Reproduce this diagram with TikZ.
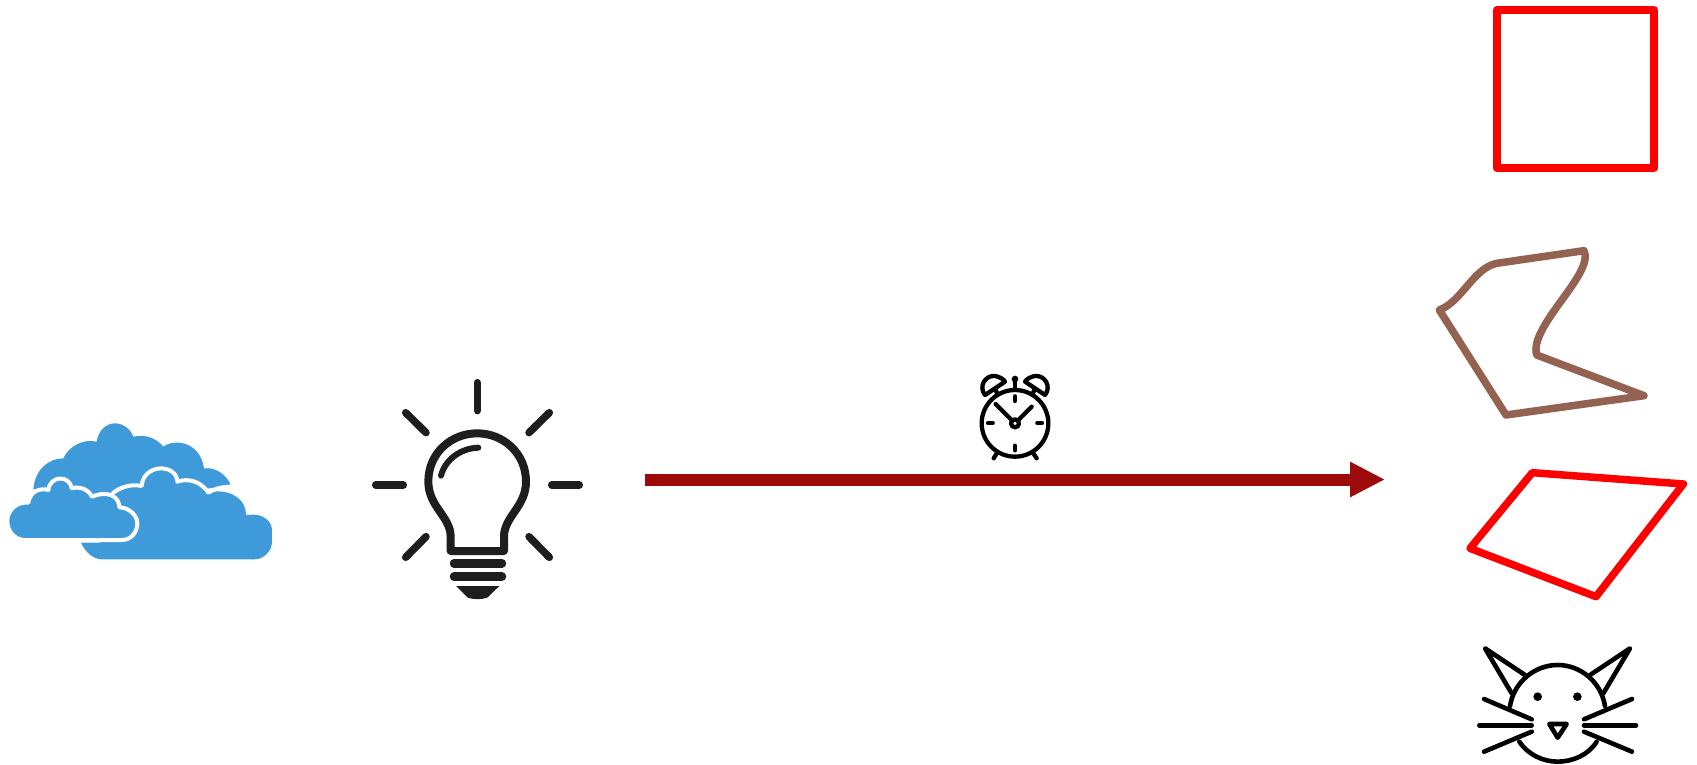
\documentclass[tikz,border=0pt]{standalone}
\usetikzlibrary{arrows.meta}
\definecolor{cloudblue}{HTML}{3E9AD8}
\definecolor{arrowred}{HTML}{9C0A0A}
\definecolor{shapebrown}{HTML}{936250}
\definecolor{inkdark}{HTML}{1E1E1E}
\tikzset{
  zoomed/.style={x=0.33333pt,y=-0.33333pt},
  redshape/.style={draw=red,line width=7.5pt,line join=round},
  brownshape/.style={draw=shapebrown,line width=7.5pt,line join=round},
  catline/.style={draw=black,line width=4.6pt,line cap=round,line join=round},
  clockline/.style={draw=black,line width=4.3pt,line cap=round,line join=round},
  bulbline/.style={draw=inkdark,line width=8pt,line cap=round,line join=round},
  ray/.style={draw=inkdark,line width=7.5pt,line cap=round},
  cloudedge/.style={draw=white,line width=4pt,line join=round,line cap=round},
}
\begin{document}
\begin{tikzpicture}[x=1pt,y=-1pt]
\useasboundingbox (0,0) rectangle (1697,765);
\fill[white] (0,0) rectangle (1697,765);

% clouds
\begin{scope}[shift={(0,400)},zoomed]
  \fill[cloudblue] (100,268) .. controls (105,205) and (150,175) .. (190,175)
     .. controls (205,140) and (250,115) .. (290,125)
     .. controls (295,90) and (320,70) .. (345,70) .. controls (370,70) and (392,88) .. (400,110)
     .. controls (440,100) and (475,120) .. (490,140)
     .. controls (525,115) and (600,125) .. (612,205)
     .. controls (650,200) and (685,230) .. (693,258)
     -- (300,300) -- (145,264) -- cycle;
  \fill[cloudblue] (243,428) .. controls (255,455) and (280,478) .. (305,478) -- (762,478)
     .. controls (795,478) and (816,450) .. (816,425) -- (816,390)
     .. controls (816,365) and (790,344) .. (762,344) -- (738,345)
     .. controls (740,300) and (690,262) .. (625,278)
     .. controls (600,240) and (560,235) .. (532,245)
     .. controls (530,190) and (430,190) .. (425,258)
     .. controls (390,250) and (355,265) .. (338,280) -- (300,428) -- cycle;
  \draw[cloudedge] (338,280) .. controls (355,265) and (390,250) .. (425,258)
     .. controls (430,190) and (530,190) .. (532,245)
     .. controls (560,235) and (600,240) .. (625,278)
     .. controls (645,265) and (670,260) .. (693,260);
  \fill[cloudblue,draw=white,line width=4pt,line join=round]
     (75,420) -- (365,420) .. controls (395,420) and (412,395) .. (412,370)
     .. controls (412,345) and (385,322) .. (358,322)
     .. controls (358,290) and (325,270) .. (276,290)
     .. controls (265,268) and (240,258) .. (215,265)
     .. controls (210,225) and (150,225) .. (145,270)
     .. controls (120,262) and (90,275) .. (85,308)
     .. controls (50,305) and (22,330) .. (22,363)
     .. controls (22,395) and (45,420) .. (75,420) -- cycle;
\end{scope}

% bulb
\begin{scope}[shift={(360,370)},zoomed]
  \draw[ray] (352,38) -- (352,122);
  \draw[ray] (137,128) -- (198,188);
  \draw[ray] (568,128) -- (507,188);
  \draw[ray] (47,345) -- (130,345);
  \draw[ray] (575,345) -- (658,345);
  \draw[ray] (137,562) -- (198,500);
  \draw[ray] (568,562) -- (507,500);
  \draw[bulbline] (272,543) -- (432,543) -- (432,500)
     .. controls (432,440) and (498,410) .. (498,335)
     .. controls (498,250) and (430,190) .. (352,190)
     .. controls (272,190) and (205,250) .. (205,335)
     .. controls (205,410) and (272,440) .. (272,500) -- cycle;
  \draw[bulbline,line width=6pt] (243,317) .. controls (255,270) and (300,235) .. (355,233);
  \draw[bulbline,line width=8.5pt] (282,580) -- (426,580);
  \draw[bulbline,line width=8.5pt] (282,620) -- (426,620);
  \fill[inkdark] (288,648) -- (418,648) -- (383,682) .. controls (370,689) and (335,689) .. (322,682) -- cycle;
\end{scope}

% arrow
\coordinate (arrowstart) at (645,479.5);
\coordinate (arrowend) at (1385,479.5);
\draw[arrowred,line width=12pt,-{Triangle[length=35pt,width=33pt]}] (arrowstart) -- (arrowend);

% clock
\begin{scope}[shift={(960,365)},zoomed]
  \draw[clockline] (165,175) circle[radius=100];
  \draw[clockline] (165,175) circle[radius=12];
  \draw[clockline] (107,117) -- (157,167);
  \draw[clockline] (215,125) -- (174,166);
  \draw[clockline] (165,94) -- (165,108);
  \draw[clockline] (165,242) -- (165,256);
  \draw[clockline] (84,174) -- (98,174);
  \draw[clockline] (232,174) -- (246,174);
  \draw[clockline] (165,45) -- (165,72);
  \fill[black] (165,42) circle[radius=10];
  \draw[clockline] (75,90) .. controls (55,65) and (75,30) .. (105,33) .. controls (118,35) and (130,42) .. (135,50) -- cycle;
  \draw[clockline] (255,90) .. controls (275,65) and (255,30) .. (225,33) .. controls (212,35) and (200,42) .. (195,50) -- cycle;
  \draw[clockline] (105,72) -- (113,88);
  \draw[clockline] (225,72) -- (217,88);
  \draw[clockline] (112,262) -- (101,280);
  \draw[clockline] (218,262) -- (230,280);
\end{scope}

% right-hand shapes
\draw[redshape,line width=8pt] (1496.7,10) rectangle (1654.3,168);
\begin{scope}[shift={(1420,230)},zoomed]
  \draw[brownshape] (58,240) .. controls (125,215) and (160,115) .. (230,100) -- (492,62)
    .. controls (525,130) and (325,290) .. (350,375) -- (672,497) -- (258,555) -- cycle;
\end{scope}
\begin{scope}[shift={(1300,440)},zoomed]
  \draw[redshape] (697,98) -- (1150,132) -- (888,470) -- (510,325) -- cycle;
\end{scope}

% cat
\begin{scope}[shift={(1460,630)},zoomed]
  \draw[catline] (150,228) .. controls (162,155) and (225,105) .. (293,105) .. controls (361,105) and (423,155) .. (435,228);
  \draw[catline] (178,335) .. controls (205,375) and (250,395) .. (293,395) .. controls (338,395) and (385,375) .. (410,335);
  \draw[catline] (195,135) -- (75,55) -- (155,190);
  \draw[catline] (390,135) -- (510,55) -- (430,190);
  \fill[black] (233,200) circle[radius=13];
  \fill[black] (352,200) circle[radius=13];
  \draw[catline] (268,282) -- (320,282) -- (293,323) -- cycle;
  \draw[catline] (72,207) -- (215,268);
  \draw[catline] (58,286) -- (215,286);
  \draw[catline] (72,365) -- (215,305);
  \draw[catline] (516,207) -- (372,268);
  \draw[catline] (528,286) -- (372,286);
  \draw[catline] (516,365) -- (372,305);
\end{scope}
\end{tikzpicture}
\end{document}
